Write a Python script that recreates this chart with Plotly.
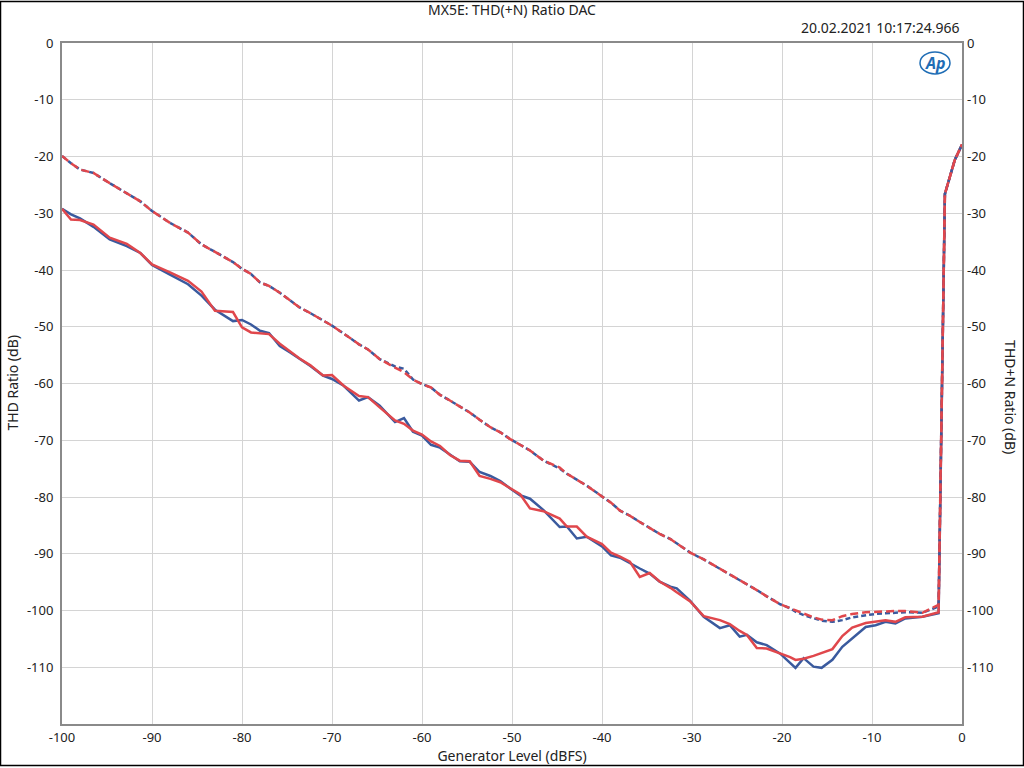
import plotly.graph_objects as go

# Generator level (dBFS)
gen_level = [-100, -99, -98, -96.5, -94.7, -92.8, -91.3, -90, -88, -86, -84.5, -83, -81, -80, -79, -78, -77,
             -75.8, -74.7, -73.6, -72.4, -71, -70, -68.7, -67, -66, -64.7, -63, -62, -61, -60, -59, -58,
             -56.9, -55.8, -54.7, -53.6, -52.4, -51.3, -50.2, -49.1, -48, -46.5, -44.7, -43.9, -42.8, -41.7,
             -40, -39, -38, -36.9, -35.8, -34.7, -33.6, -32.4, -31.7, -30.2, -28.7, -26.9, -25.8, -24.7,
             -23.9, -22.8, -21.7, -20.2, -19.1, -18.5, -17.6, -16.5, -15.6, -14.4, -13.3, -12.2, -10.7,
             -9.6, -8.5, -7.4, -6.3, -4.4, -2.6, -1.9, -0.8, 0]

thd_left = [-29.2, -30.2, -30.9, -32.4, -34.6, -35.8, -37.0, -39.1, -40.8, -42.5, -44.5, -47.0, -49.0, -48.8,
            -49.6, -50.7, -51.1, -53.4, -54.5, -55.7, -56.9, -58.6, -59.2, -60.4, -63.0, -62.4, -63.9, -66.8,
            -66.1, -68.5, -69.2, -70.8, -71.3, -72.5, -73.7, -73.8, -75.6, -76.3, -77.2, -78.5, -79.7, -80.3,
            -82.3, -85.3, -85.2, -87.3, -87.0, -88.7, -90.3, -90.7, -91.7, -92.6, -93.5, -94.9, -95.8, -96.1,
            -98.3, -101.1, -103.1, -102.6, -104.6, -104.3, -105.6, -106.1, -107.6, -109.3, -110.1, -108.4,
            -109.9, -110.1, -108.7, -106.4, -104.9, -102.9, -102.6, -102.0, -102.3, -101.4, -101.1, -100.5,
            -26.6, -20.6, -17.9]

thd_right = [-29.2, -31.1, -31.2, -32.0, -34.3, -35.4, -37.0, -39.0, -40.4, -41.9, -43.8, -47.2, -47.4, -50.1,
             -51.0, -51.2, -51.3, -53.0, -54.3, -55.6, -56.8, -58.6, -58.5, -60.4, -62.2, -62.4, -64.2, -66.5,
             -67.1, -68.3, -69.0, -70.2, -71.0, -72.6, -73.6, -73.7, -76.3, -76.8, -77.4, -78.5, -79.5, -82.0,
             -82.5, -83.8, -85.2, -85.2, -87.0, -88.3, -89.8, -90.5, -91.4, -94.1, -93.4, -94.9, -96.0, -96.8,
             -98.4, -101.0, -101.7, -102.4, -103.6, -104.3, -106.6, -106.7, -107.5, -108.2, -108.7, -108.5,
             -108.0, -107.5, -106.8, -104.5, -103.0, -102.2, -102.0, -101.7, -102.0, -101.2, -101.1, -100.3,
             -26.6, -20.6, -17.9]

thdn_left = [-19.9, -21.2, -22.3, -22.9, -24.7, -26.5, -27.9, -29.6, -31.7, -33.4, -35.5, -36.8, -38.6, -39.8,
             -40.7, -42.2, -42.8, -44.0, -45.3, -46.6, -47.6, -48.9, -49.8, -51.2, -53.1, -54.0, -55.7, -57.0,
             -57.4, -59.3, -60.1, -60.7, -62.0, -63.0, -64.0, -65.1, -66.4, -67.7, -68.6, -69.8, -70.8, -71.8,
             -73.6, -75.0, -75.9, -77.0, -78.0, -79.9, -81.0, -82.4, -83.3, -84.4, -85.5, -86.5, -87.4, -88.2,
             -89.8, -91.0, -92.6, -93.6, -94.7, -95.4, -96.4, -97.5, -98.9, -99.6, -100.2, -100.8, -101.4,
             -101.8, -102.0, -101.7, -101.2, -100.8, -100.6, -100.5, -100.4, -100.3, -100.4, -99.3,
             -26.6, -20.6, -17.9]

thdn_right = [-19.9, -21.2, -22.3, -22.9, -24.7, -26.5, -27.9, -29.6, -31.7, -33.4, -35.5, -36.8, -38.6, -39.8,
              -40.7, -42.2, -42.8, -44.0, -45.3, -46.6, -47.6, -48.9, -49.8, -51.2, -53.1, -54.0, -55.7, -57.2,
              -58.0, -59.3, -60.1, -60.7, -62.0, -63.0, -64.0, -65.1, -66.4, -67.7, -68.6, -69.8, -70.8, -71.8,
              -73.6, -74.8, -75.9, -77.0, -78.0, -79.9, -81.0, -82.4, -83.3, -84.4, -85.5, -86.5, -87.4, -88.2,
              -89.8, -91.0, -92.6, -93.6, -94.7, -95.4, -96.4, -97.5, -98.9, -99.6, -100.0, -100.6, -101.2,
              -101.6, -101.7, -101.0, -100.6, -100.3, -100.2, -100.2, -100.1, -100.1, -100.4, -99.0,
              -26.6, -20.6, -17.9]

x_ticks = [-100, -90, -80, -70, -60, -50, -40, -30, -20, -10, 0]
y_ticks = [0, -10, -20, -30, -40, -50, -60, -70, -80, -90, -100, -110]

BLUE = "#3a5a9e"
RED = "#e0474c"
FONT = "Noto Sans"
TXT = "#222222"

fig = go.Figure()
fig.add_trace(go.Scatter(x=gen_level, y=thdn_left, yaxis="y2", mode="lines",
                         line=dict(color=BLUE, width=2.5, dash="5px,3px"), name="THD+N L"))
fig.add_trace(go.Scatter(x=gen_level, y=thdn_right, yaxis="y2", mode="lines",
                         line=dict(color=RED, width=2.5, dash="8px,4px"), name="THD+N R"))
fig.add_trace(go.Scatter(x=gen_level, y=thd_left, mode="lines",
                         line=dict(color=BLUE, width=2.5), name="THD L"))
fig.add_trace(go.Scatter(x=gen_level, y=thd_right, mode="lines",
                         line=dict(color=RED, width=2.5), name="THD R"))

tick_font = dict(family=FONT, size=13, color=TXT)
title_font = dict(family=FONT, size=14, color=TXT)

fig.update_layout(
    width=1024, height=768,
    margin=dict(l=62, r=62, t=43, b=42),
    paper_bgcolor="white", plot_bgcolor="white",
    showlegend=False,
    font=dict(family=FONT, size=13, color=TXT),
    xaxis=dict(range=[-100, 0], tickvals=x_ticks, ticktext=[str(v) for v in x_ticks],
               showgrid=True, gridcolor="#d4d4d4", gridwidth=1, zeroline=False,
               showline=True, linecolor="#8a8a8a", linewidth=2, mirror=True,
               ticks="", tickfont=tick_font,
               title=dict(text="Generator Level (dBFS)", font=title_font, standoff=1)),
    yaxis=dict(range=[-120, 0], tickvals=y_ticks, ticktext=[str(v) for v in y_ticks],
               showgrid=True, gridcolor="#d4d4d4", gridwidth=1, zeroline=False,
               showline=True, linecolor="#8a8a8a", linewidth=2, mirror=True,
               ticks="", tickfont=tick_font, ticklabelstandoff=4),
    yaxis2=dict(range=[-120, 0], tickvals=y_ticks, ticktext=[str(v) for v in y_ticks],
                overlaying="y", side="right", showgrid=False, zeroline=False,
                ticks="", tickfont=tick_font, ticklabelstandoff=4),
)

annotations = [
    dict(text="MX5E: THD(+N) Ratio DAC", x=0.5, y=1, xref="paper", yref="paper",
         xanchor="center", yanchor="bottom", yshift=22, showarrow=False, font=title_font),
    dict(text="20.02.2021 10:17:24.966", x=1, y=1, xref="paper", yref="paper",
         xanchor="right", yanchor="bottom", yshift=4, showarrow=False, font=title_font),
    dict(text="THD Ratio (dB)", x=0, y=0.5, xref="paper", yref="paper",
         xanchor="center", yanchor="middle", xshift=-50, textangle=-90, showarrow=False,
         font=title_font),
    dict(text="THD+N Ratio (dB)", x=1, y=0.48, xref="paper", yref="paper",
         xanchor="center", yanchor="middle", xshift=49, textangle=90, showarrow=False,
         font=title_font),
    dict(text="<b><i>Ap</i></b>", x=(935 - 62) / 900, y=1 - 20 / 683, xref="paper", yref="paper",
         xanchor="center", yanchor="middle", showarrow=False,
         font=dict(family=FONT, size=16, color="#1f6db5")),
]
fig.update_layout(annotations=annotations)

# AP logo swoosh
fig.add_shape(type="circle", xref="paper", yref="paper",
              x0=(920 - 62) / 900, x1=(950 - 62) / 900, y0=1 - 31 / 683, y1=1 - 9 / 683,
              line=dict(color="#1f6db5", width=1.5), fillcolor="rgba(0,0,0,0)")

# outer frame of the picture
fig.add_shape(type="rect", xref="paper", yref="paper",
              x0=-61.5 / 900, x1=961.5 / 900, y0=-41.5 / 683, y1=724.5 / 683,
              line=dict(color="#000000", width=1.5), fillcolor="rgba(0,0,0,0)")

fig.write_html("out.html", config={"displayModeBar": False},
               post_script="document.body.style.margin='0';document.body.style.padding='0';")
